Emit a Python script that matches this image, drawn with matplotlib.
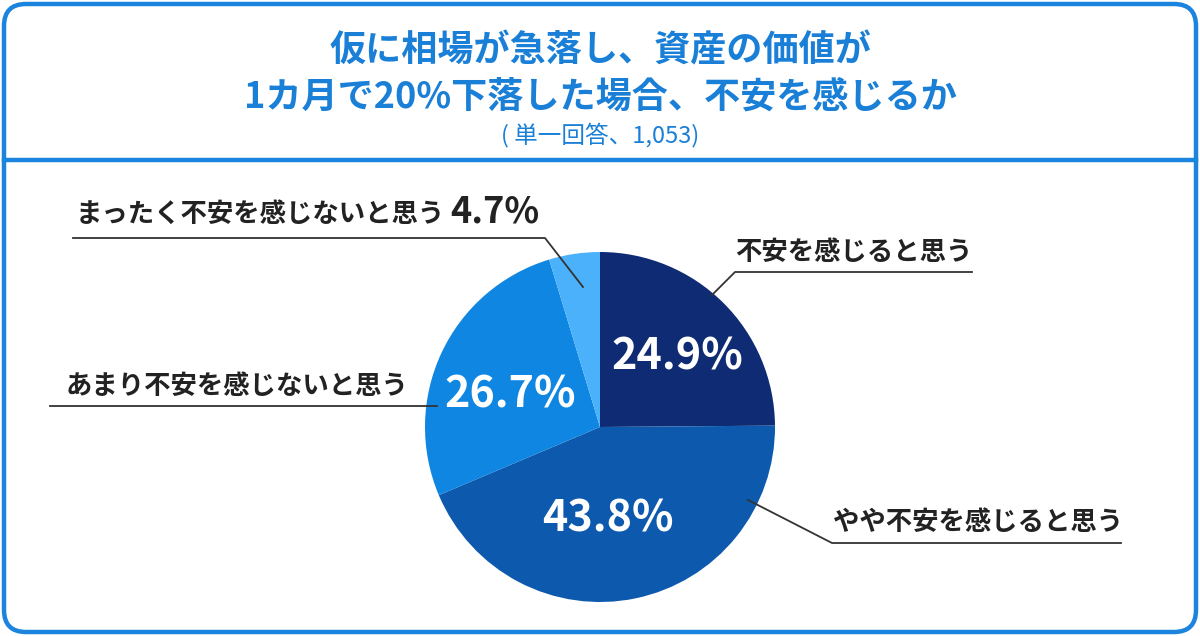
import matplotlib.pyplot as plt
from matplotlib.patches import FancyBboxPatch

plt.rcParams['font.family'] = ['Noto Sans CJK JP', 'DejaVu Sans']

# データ
labels = ['不安を感じると思う', 'やや不安を感じると思う', 'あまり不安を感じないと思う', 'まったく不安を感じないと思う']
values = [24.9, 43.8, 26.7, 4.7]
colors = ['#0f2b73', '#0c59ad', '#0f86e1', '#4cb1fb']
title = '仮に相場が急落し、資産の価値が\n1カ月で20%下落した場合、不安を感じるか'
subtitle = '( 単一回答、1,053)'

W, H = 1200, 636
fig = plt.figure(figsize=(12, 6.36), dpi=100)
ax = fig.add_axes([0, 0, 1, 1])

blue = '#1a84de'
# 枠
box = FancyBboxPatch((4, 4), W - 8, H - 8, boxstyle='round,pad=0,rounding_size=22',
                     fc='white', ec=blue, lw=3.2, zorder=0)
ax.add_patch(box)
ax.plot([4, W - 4], [H - 160, H - 160], color=blue, lw=3.2, zorder=1)

# タイトル
ax.text(600, H - 74, title, ha='center', va='center', fontsize=26, fontweight='bold',
        color='#1a7fd6', linespacing=1.32)
ax.text(600, H - 135, subtitle, ha='center', va='center', fontsize=17, color='#1a7fd6')

# 円グラフ
cx, cy, r = 600, H - 427, 175
wedges, _ = ax.pie(values, colors=colors, startangle=90, counterclock=False,
                   center=(cx, cy), radius=r, frame=True)
ax.set_xlim(0, W)
ax.set_ylim(0, H)
ax.set_aspect('equal')
ax.axis('off')

# 内側の数値
inner = [(677, 357), (608, 518), (510, 395)]
for (x, y), v in zip(inner, values[:3]):
    ax.text(x, H - y, f'{v}%', ha='center', va='center', fontsize=31,
            fontweight='bold', color='white')

# 引き出し線とラベル
lc = '#333333'
tc = '#222222'
# 不安を感じると思う
ax.plot([712, 735, 972], [H - 295, H - 272, H - 272], color=lc, lw=1.3)
ax.text(735, H - 252, labels[0], ha='left', va='center', fontsize=19, fontweight='bold', color=tc)
# やや不安を感じると思う
ax.plot([748, 832, 1121], [H - 500, H - 543, H - 543], color=lc, lw=1.3)
ax.text(833, H - 523, labels[1], ha='left', va='center', fontsize=19, fontweight='bold', color=tc)
# あまり不安を感じないと思う
ax.plot([50, 437], [H - 406, H - 406], color=lc, lw=1.3)
ax.text(66, H - 386, labels[2], ha='left', va='center', fontsize=19, fontweight='bold', color=tc)
# まったく不安を感じないと思う
ax.plot([73, 545, 583], [H - 238, H - 238, H - 287], color=lc, lw=1.3)
ax.text(76, H - 214, labels[3], ha='left', va='center', fontsize=19, fontweight='bold', color=tc)
ax.text(450, H - 212, f'{values[3]}%', ha='left', va='center', fontsize=26, fontweight='bold', color=tc)

fig.savefig('out.png', dpi=100, facecolor='white')
